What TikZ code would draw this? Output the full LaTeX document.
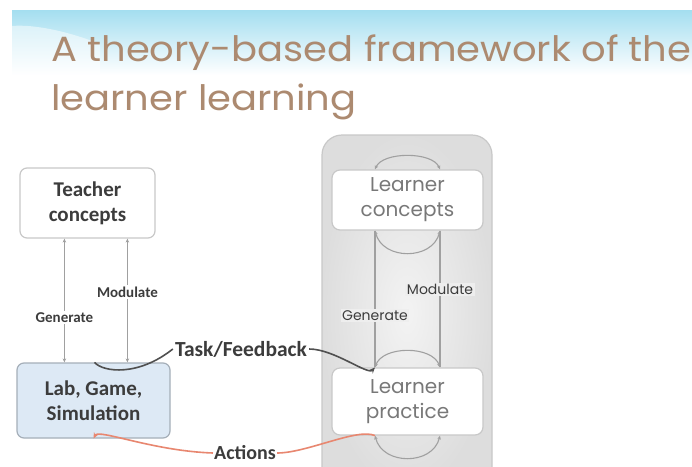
\documentclass[tikz,border=0pt]{standalone}
\usepackage{fontspec}
\setmainfont{Carlito}
\newfontfamily\geo{Poppins}
\newfontfamily\geowide[FakeStretch=1.1]{Poppins}
\usetikzlibrary{arrows.meta,calc}
\definecolor{titlecol}{RGB}{172,138,112}
\definecolor{bandblue}{RGB}{164,222,240}
\definecolor{boxbord}{RGB}{200,200,200}
\definecolor{labfill}{RGB}{221,233,245}
\definecolor{labbord}{RGB}{165,175,185}
\definecolor{txtdark}{RGB}{60,60,60}
\definecolor{txtgray}{RGB}{120,120,120}
\definecolor{lngray}{RGB}{160,160,160}
\definecolor{actred}{RGB}{232,135,112}
\definecolor{contfill}{RGB}{238,238,238}
\definecolor{contbord}{RGB}{200,200,200}
\tikzset{
  tbox/.style={draw=boxbord, line width=1.2pt, fill=white, rounded corners=7pt, align=center, font=\bfseries\fontsize{21}{25}\selectfont, text=txtdark, inner sep=0pt},
  labbox/.style={tbox, draw=labbord, fill=labfill},
  lbox/.style={draw=boxbord, line width=1.2pt, fill=white, rounded corners=8pt, align=center, font=\geo\fontsize{20}{25}\selectfont, text=txtgray, inner sep=0pt},
  conn/.style={draw=lngray, line width=1.1pt, {Stealth[length=4pt,width=3.5pt]}-{Stealth[length=4pt,width=3.5pt]}},
  loop/.style={draw=lngray, line width=1.1pt, {Stealth[length=4pt,width=3.5pt]}-{Stealth[length=4pt,width=3.5pt]}},
  plain/.style={draw=lngray, line width=1.1pt},
  small/.style={font=\bfseries\fontsize{15}{17}\selectfont, text=txtdark, fill=white, inner sep=1.5pt},
  smallg/.style={font=\geo\fontsize{14}{16}\selectfont, text=txtdark, fill=contfill, inner sep=1.5pt},
  biglab/.style={font=\bfseries\fontsize{21.5}{24}\selectfont, text=txtdark, inner sep=2pt},
  task/.style={draw=txtdark!90, line width=1.6pt},
  act/.style={draw=actred, line width=1.6pt}
}
\begin{document}
\begin{tikzpicture}[x=1pt,y=-1pt]
\useasboundingbox (0,0) rectangle (692,466);
\fill[white] (0,0) rectangle (692,466);
% banner
\shade[top color=bandblue, bottom color=white] (12,10) rectangle (692,75);
\fill[white, opacity=0.5] (12,26) .. controls (35,24) and (70,32) .. (100,44) -- (100,75) -- (12,75) -- cycle;
% title
\node[anchor=base west, inner sep=0pt, text=titlecol, font=\geowide\fontsize{35}{40}\selectfont] (t1) at (51,61) {A theory-based framework of the};
\node[anchor=base west, inner sep=0pt, text=titlecol, font=\geowide\fontsize{35}{40}\selectfont] (t2) at (51,110) {learner learning};
% right container
\begin{scope}
\clip (0,0) rectangle (692,466);
\shade[draw=contbord, line width=1.2pt, rounded corners=20pt, inner color=contfill!70, outer color=contfill!93!black] (322,135) rectangle (492,490);
\end{scope}
% boxes
\node[tbox, minimum width=135pt, minimum height=70pt] (tc) at (87.5,203) {Teacher\\concepts};
\node[labbox, minimum width=153pt, minimum height=75pt] (lab) at (93.5,400.5) {Lab, Game,\\Simulation};
\node[lbox, minimum width=151pt, minimum height=60pt] (lc) at (407.5,200) {Learner\\concepts};
\node[lbox, minimum width=151pt, minimum height=67pt] (lp) at (407.5,401.5) {Learner\\practice};
% left connectors
\draw[conn] ([xshift=45pt]tc.south west) -- ([xshift=45pt]tc.south west |- lab.north) node[pos=0.64, small] (gl) {Generate};
\draw[conn] ([xshift=108pt]tc.south west) -- ([xshift=108pt]tc.south west |- lab.north) node[pos=0.43, small] (ml) {Modulate};
% right loops
\draw[loop] ([xshift=-32.5pt]lc.north) .. controls ([xshift=-25pt,yshift=18pt]lc.north) and ([xshift=25pt,yshift=18pt]lc.north) .. ([xshift=32.5pt]lc.north);
\draw[loop] ([xshift=-32.5pt]lc.south) .. controls ([xshift=-25pt,yshift=-30pt]lc.south) and ([xshift=25pt,yshift=-30pt]lc.south) .. ([xshift=32.5pt]lc.south);
\draw[loop] ([xshift=-32.5pt]lp.north) .. controls ([xshift=-25pt,yshift=22pt]lp.north) and ([xshift=25pt,yshift=22pt]lp.north) .. ([xshift=32.5pt]lp.north);
\draw[loop] ([xshift=-32.5pt]lp.south) .. controls ([xshift=-25pt,yshift=-30pt]lp.south) and ([xshift=25pt,yshift=-30pt]lp.south) .. ([xshift=32.5pt]lp.south);
\draw[plain] ([xshift=-32.5pt]lc.south) -- ([xshift=-32.5pt]lp.north) node[pos=0.62, smallg] (gr) {Generate};
\draw[plain] ([xshift=32.5pt]lc.south) -- ([xshift=32.5pt]lp.north) node[pos=0.43, smallg] (mr) {Modulate};
% task / feedback
\node[biglab] (tf) at (241,349) {Task/Feedback};
\draw[task] ([xshift=1pt]lab.north) .. controls ([xshift=10pt,yshift=-10pt]lab.north) and ([xshift=45pt,yshift=-14pt]lab.north) .. (tf.west);
\draw[task, -{Stealth[length=6pt,width=5pt]}] (tf.east) .. controls ([xshift=25pt]tf.east) and ([xshift=-40pt,yshift=-8pt]lp.north) .. ([xshift=-32.5pt]lp.north);
% actions
\node[biglab, font=\bfseries\fontsize{20}{22}\selectfont, inner sep=1pt] (ac) at (245,453) {Actions};
\draw[act, -{Stealth[length=6pt,width=5pt]}] (ac.west) .. controls ([xshift=-60pt,yshift=2pt]ac.west) and ([xshift=5pt,yshift=10pt]lab.south) .. ([xshift=0pt]lab.south);
\draw[act] (ac.east) .. controls ([xshift=30pt,yshift=0pt]ac.east) and ([xshift=-50pt,yshift=8pt]lp.south) .. ([xshift=-32.5pt]lp.south);
\end{tikzpicture}
\end{document}
